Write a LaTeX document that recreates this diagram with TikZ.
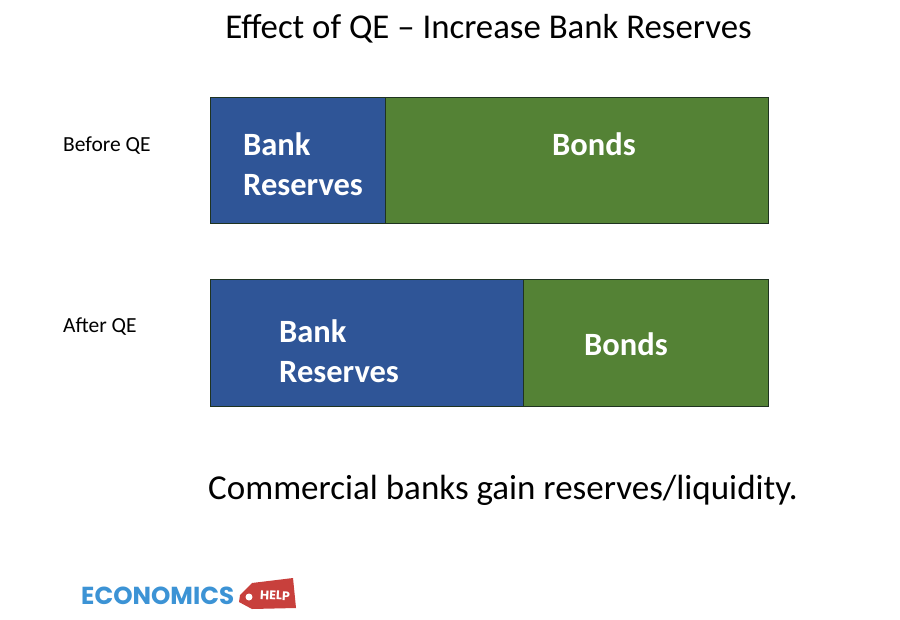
\documentclass[tikz,border=0pt]{standalone}
\usepackage{fontspec}
\setmainfont{Carlito}
\newfontfamily\logofont{Poppins}
\definecolor{barblue}{HTML}{2F5597}
\definecolor{bargreen}{HTML}{548235}
\definecolor{edge}{HTML}{1F3320}
\definecolor{logoblue}{HTML}{3C93D5}
\definecolor{logored}{HTML}{C8403C}
\tikzset{
  x=1pt,y=-1pt,
  seg/.style={draw=edge,line width=0.9pt},
  bartext/.style={text=white,font=\bfseries\fontsize{32.5}{40}\selectfont,align=left,inner sep=0},
  side/.style={text=black,font=\fontsize{21.5}{24}\selectfont,inner sep=0,anchor=west},
  big/.style={text=black,inner sep=0},
}
\begin{document}
\begin{tikzpicture}
\useasboundingbox[fill=white] (0,0) rectangle (900,619);
\node[big,font=\fontsize{34.8}{40}\selectfont] (title) at (488.5,29) {Effect of QE – Increase Bank Reserves};
\node[side] (before) at (63,146) {Before QE};
\node[side] (after) at (63,327) {After QE};
% before bar
\path[seg,fill=barblue] (210.5,97) rectangle (385.5,223);
\path[seg,fill=bargreen] (385.5,97) rectangle (768.5,223);
\node[bartext,anchor=west] (b1) at (243,144.5) {Bank};
\node[bartext,anchor=west] (r1) at (243,185) {Reserves};
\node[bartext,anchor=center] (g1) at (594,144.5) {Bonds};
% after bar
\path[seg,fill=barblue] (210.5,279) rectangle (523.5,406);
\path[seg,fill=bargreen] (523.5,279) rectangle (768.5,406);
\node[bartext,anchor=west] (b2) at (279,331.5) {Bank};
\node[bartext,anchor=west] (r2) at (279,372) {Reserves};
\node[bartext,anchor=center] (g2) at (626,344) {Bonds};
\node[big,font=\fontsize{35}{40}\selectfont] (foot) at (503,490) {Commercial banks gain reserves/liquidity.};
% logo
\node[inner sep=0,text=logoblue,font=\logofont\bfseries\fontsize{24.6}{28}\selectfont,anchor=west] (logo) at (81,596) {ECONOMICS};
\fill[logored] (240,595) -- (252,583) -- (293,578) -- (296,608) -- (252,609) -- (239,602) -- cycle;
\fill[white] (249,597) circle (3.5);
\node[inner sep=0,text=white,font=\logofont\bfseries\fontsize{12.5}{14}\selectfont,rotate=-3] (help) at (275,595.5) {HELP};
\end{tikzpicture}
\end{document}
